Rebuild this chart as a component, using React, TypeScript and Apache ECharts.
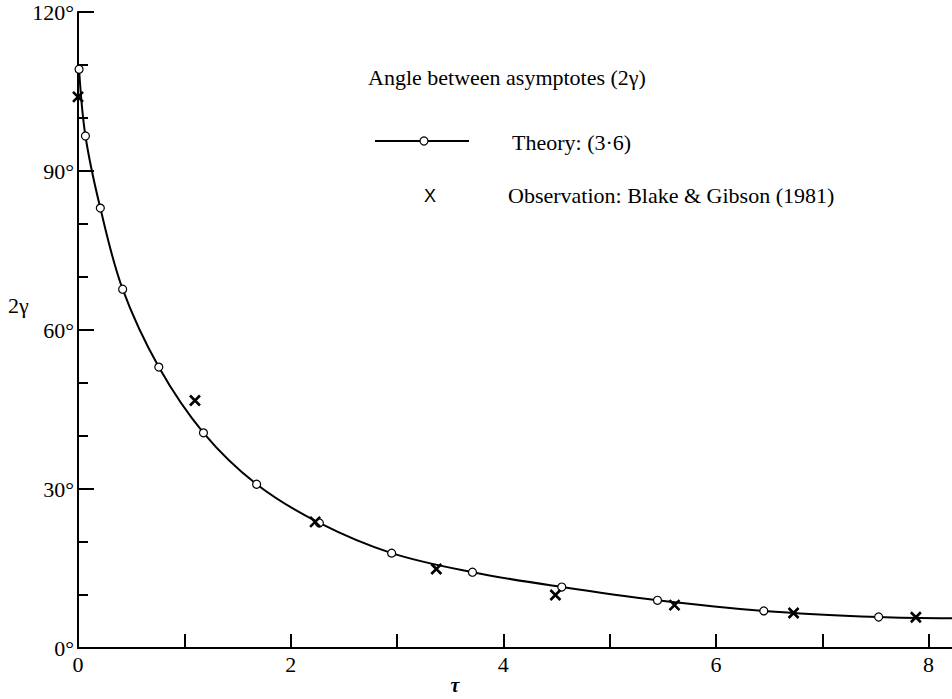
import React, { useEffect, useRef } from "react";
import * as echarts from "echarts";

// Theory (3·6): open circles on the curve  [tau, 2gamma in degrees]
const theoryTau = [0.01, 0.07, 0.21, 0.42, 0.76, 1.18, 1.68, 2.27, 2.95, 3.71, 4.55, 5.45, 6.45, 7.53];
const theoryAngle = [109.2, 96.6, 83.0, 67.7, 53.0, 40.6, 30.9, 23.6, 17.9, 14.3, 11.5, 9.0, 7.0, 5.85];
// continuation of the theory curve to the right edge
const curveEndTau = [8.22];
const curveEndAngle = [5.6];

// Observation: Blake & Gibson (1981)
const obsTau = [0.0, 1.1, 2.23, 3.37, 4.49, 5.61, 6.73, 7.88];
const obsAngle = [104.0, 46.7, 23.8, 14.9, 10.0, 8.1, 6.6, 5.8];

// axes
const xTicks = [0, 1, 2, 3, 4, 5, 6, 7, 8];
const xLabels = [0, 2, 4, 6, 8];
const yMin = 0;
const yMax = 120;
const yInterval = 30;
const xMax = 8.22;

const legendTitle = "Angle between asymptotes (2\u03b3)";
const theoryName = "Theory: (3\u00b76)";
const obsName = "Observation: Blake & Gibson (1981)";

const SERIF = "'Liberation Serif', 'DejaVu Serif', serif";
const SANS = "'Liberation Sans', 'DejaVu Sans', sans-serif";

export default function App() {
  const ref = useRef<HTMLDivElement>(null);

  useEffect(() => {
    if (!ref.current) return;
    const chart = echarts.init(ref.current, undefined, { renderer: "svg" });

    const theoryPts = theoryTau.map((t, i) => [t, theoryAngle[i]]);
    const curvePts = theoryPts.concat(curveEndTau.map((t, i) => [t, curveEndAngle[i]]));
    const obsPts = obsTau.map((t, i) => [t, obsAngle[i]]);

    chart.setOption({
      animation: false,
      backgroundColor: "#fff",
      grid: { left: 78, right: 0, top: 12, bottom: 51, containLabel: false },
      xAxis: {
        type: "value",
        min: 0,
        max: xMax,
        interval: 1,
        splitLine: { show: false },
        axisLine: { show: true, onZero: false, lineStyle: { color: "#000", width: 2 } },
        axisTick: {
          show: true,
          inside: true,
          length: 14,
          customValues: xTicks,
          lineStyle: { color: "#000", width: 2 },
        },
        axisLabel: {
          show: true,
          customValues: xLabels,
          margin: 5,
          color: "#000",
          fontFamily: SERIF,
          fontSize: 22,
          formatter: (v: number) => String(v),
        },
      },
      yAxis: {
        type: "value",
        min: yMin,
        max: yMax,
        interval: yInterval,
        splitLine: { show: false },
        axisLine: { show: true, onZero: false, lineStyle: { color: "#000", width: 2 } },
        axisTick: { show: true, inside: true, length: 16, lineStyle: { color: "#000", width: 2 } },
        minorTick: { show: true, splitNumber: 3, length: 10, lineStyle: { color: "#000", width: 2 } },
        minorSplitLine: { show: false },
        axisLabel: {
          show: true,
          margin: 4,
          color: "#000",
          fontFamily: SERIF,
          fontSize: 22,
          formatter: (v: number) => v + "\u00b0",
        },
      },
      series: [
        {
          type: "line",
          name: "curve",
          data: curvePts,
          smooth: 0.35,
          symbol: "none",
          lineStyle: { color: "#000", width: 2 },
          z: 2,
        },
        {
          type: "scatter",
          name: theoryName,
          data: theoryPts,
          symbol: "circle",
          symbolSize: 8,
          itemStyle: { color: "#fff", borderColor: "#000", borderWidth: 1.2, opacity: 1 },
          z: 3,
        },
        {
          type: "scatter",
          name: obsName,
          data: obsPts,
          symbol: "path://M0,0L10,10M10,0L0,10",
          symbolSize: 10,
          itemStyle: { color: "none", borderColor: "#000", borderWidth: 2.6, opacity: 1 },
          z: 4,
        },
      ],
      graphic: [
        {
          type: "text",
          left: 8,
          top: 294,
          style: { text: "2\u03b3", font: `22px ${SERIF}`, fill: "#000" },
        },
        {
          type: "text",
          x: 455,
          y: 685,
          style: {
            text: "\u03c4",
            font: `italic bold 20px ${SERIF}`,
            fill: "#000",
            align: "center",
            verticalAlign: "middle",
          },
        },
        {
          type: "text",
          x: 368,
          y: 77,
          style: { text: legendTitle, font: `22px ${SERIF}`, fill: "#000", verticalAlign: "middle" },
        },
        {
          type: "line",
          shape: { x1: 375, y1: 141, x2: 469, y2: 141 },
          style: { stroke: "#000", lineWidth: 2 },
        },
        {
          type: "circle",
          shape: { cx: 424, cy: 141, r: 4 },
          style: { fill: "#fff", stroke: "#000", lineWidth: 1.2 },
        },
        {
          type: "text",
          x: 512,
          y: 142,
          style: { text: theoryName, font: `22px ${SERIF}`, fill: "#000", verticalAlign: "middle" },
        },
        {
          type: "text",
          x: 430,
          y: 196,
          style: {
            text: "X",
            font: `18px ${SANS}`,
            fill: "#000",
            align: "center",
            verticalAlign: "middle",
          },
        },
        {
          type: "text",
          x: 508,
          y: 195,
          style: { text: obsName, font: `22px ${SERIF}`, fill: "#000", verticalAlign: "middle" },
        },
      ],
    });

    return () => chart.dispose();
  }, []);

  return (
    <div
      ref={ref}
      style={{ position: "fixed", left: 0, top: 0, width: 952, height: 699, background: "#fff" }}
    />
  );
}
